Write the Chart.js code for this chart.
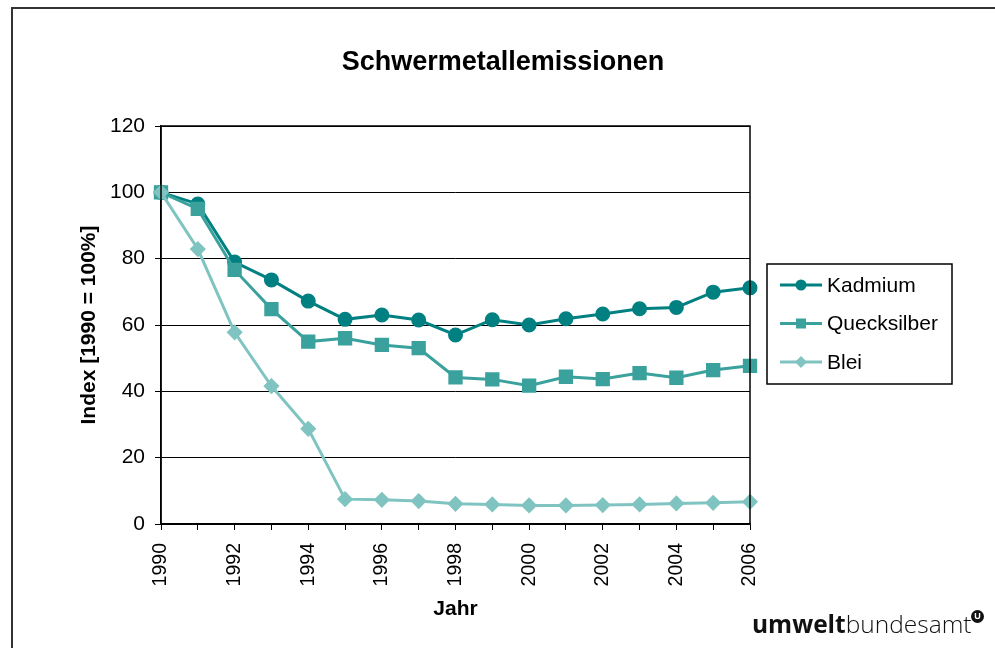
<!DOCTYPE html>
<html>
<head>
  <title>Schwermetallemissionen</title>
  <style>
    body { margin: 0; background: #fff; overflow: hidden; font-family: "Liberation Sans", Arial, sans-serif; }
    #wrap { position: relative; width: 995px; height: 648px; }
    #frame { position: absolute; left: 11px; top: 7px; width: 1100px; height: 800px; border: 2px solid #333; box-sizing: border-box; }
    #chart { position: absolute; left: 0; top: 0; }
    #logo { position: absolute; left: 752px; top: 607px; font-family: "Open Sans", "DejaVu Sans", sans-serif; font-size: 24.5px; color: #111; white-space: nowrap; }
    #logo b { font-weight: 700; }
    #logo span.light { font-weight: 300; }
    #logo .mark { position: absolute; left: 219px; top: 3px; width: 13px; height: 13px; border-radius: 50%; background: #111; color: #fff; font: bold 9px "Liberation Sans", Arial, sans-serif; line-height: 13px; text-align: center; }
  </style>
</head>
<body>
  <div id="wrap">
    <div id="frame"></div>
    <canvas id="chart" width="995" height="648"></canvas>
    <div id="logo"><b>umwelt</b><span class="light">bundesamt</span><span class="mark">U</span></div>
  </div>

  <script src="https://cdn.jsdelivr.net/npm/chart.js"></script>
  <script>
    // Daten
    const jahre = ['1990','1991','1992','1993','1994','1995','1996','1997','1998','1999','2000','2001','2002','2003','2004','2005','2006'];
    const kadmium     = [100, 96.5, 79, 73.6, 67.2, 61.7, 63, 61.5, 57, 61.6, 60, 61.9, 63.3, 64.9, 65.3, 69.9, 71.2];
    const quecksilber = [100, 95, 76.6, 64.8, 55, 56, 54, 53, 44.2, 43.6, 41.7, 44.4, 43.7, 45.5, 44.1, 46.4, 47.7];
    const blei        = [100, 82.9, 57.8, 41.6, 28.7, 7.5, 7.3, 6.9, 6.1, 5.9, 5.6, 5.6, 5.7, 5.9, 6.2, 6.4, 6.7];
    const yTicks = [0, 20, 40, 60, 80, 100, 120];

    const schrift = '"Liberation Sans", Arial, sans-serif';

    // Rahmen um die Zeichenfläche + Titel + Legende
    const extras = {
      id: 'extras',
      afterDraw(chart) {
        const ctx = chart.ctx;
        const a = chart.chartArea;
        ctx.save();
        ctx.strokeStyle = '#000';
        ctx.lineWidth = 1.5;
        ctx.strokeRect(a.left, a.top, a.right - a.left, a.bottom - a.top);

        // Titel
        ctx.fillStyle = '#000';
        ctx.font = 'bold 27px ' + schrift;
        ctx.textAlign = 'center';
        ctx.textBaseline = 'middle';
        ctx.fillText('Schwermetallemissionen', 503, 63);

        // Legende
        const lx = a.right + 17, ly = 264, lw = 185, lh = 120;
        ctx.lineWidth = 1.5;
        ctx.strokeRect(lx, ly, lw, lh);
        ctx.font = '21px ' + schrift;
        ctx.textAlign = 'left';
        chart.data.datasets.forEach(function(ds, i) {
          const y = ly + 21 + i * 38.5;
          ctx.strokeStyle = ds.borderColor;
          ctx.lineWidth = 3;
          ctx.beginPath();
          ctx.moveTo(lx + 13, y);
          ctx.lineTo(lx + 55, y);
          ctx.stroke();
          ctx.fillStyle = ds.borderColor;
          const cx = lx + 34;
          ctx.beginPath();
          if (ds.pointStyle === 'circle') {
            ctx.arc(cx, y, 5.5, 0, Math.PI * 2);
          } else if (ds.pointStyle === 'rect') {
            ctx.rect(cx - 5, y - 5, 10, 10);
          } else {
            ctx.moveTo(cx, y - 6); ctx.lineTo(cx + 6, y); ctx.lineTo(cx, y + 6); ctx.lineTo(cx - 6, y);
            ctx.closePath();
          }
          ctx.fill();
          ctx.fillStyle = '#000';
          ctx.fillText(ds.label, lx + 60, y + 1);
        });
        ctx.restore();
      }
    };

    new Chart(document.getElementById('chart'), {
      type: 'line',
      data: {
        labels: jahre,
        datasets: [
          { label: 'Kadmium', data: kadmium, borderColor: '#008080', backgroundColor: '#008080',
            pointStyle: 'circle', pointRadius: 6, borderWidth: 3, order: 3 },
          { label: 'Quecksilber', data: quecksilber, borderColor: '#3aa19d', backgroundColor: '#3aa19d',
            pointStyle: 'rect', pointRadius: 8, borderWidth: 3, order: 2 },
          { label: 'Blei', data: blei, borderColor: '#80c4c1', backgroundColor: '#80c4c1',
            pointStyle: 'rectRot', pointRadius: 6, borderWidth: 3, order: 1 }
        ]
      },
      options: {
        responsive: false,
        animation: false,
        events: [],
        layout: { padding: { left: 73, right: 245, top: 126, bottom: 22 } },
        plugins: { legend: { display: false }, title: { display: false }, tooltip: { enabled: false } },
        elements: { line: { tension: 0 }, point: { borderWidth: 0 } },
        scales: {
          x: {
            type: 'category',
            offset: false,
            grid: { drawOnChartArea: false, drawTicks: true, tickLength: 6, color: '#000', lineWidth: 1 },
            border: { color: '#000', width: 1.5 },
            ticks: {
              autoSkip: false, maxRotation: 90, minRotation: 90, padding: 13, color: '#000',
              font: { family: schrift, size: 19.5 },
              callback: function(v, i) { return i % 2 === 0 ? jahre[i] : ''; }
            },
            title: { display: true, text: 'Jahr', color: '#000', font: { family: schrift, size: 21, weight: 'bold' }, padding: 4 },
            afterFit: function(s) { s.height = 102; }
          },
          y: {
            min: 0, max: 120,
            afterBuildTicks: function(s) { s.ticks = yTicks.map(function(v) { return { value: v }; }); },
            grid: { color: '#000', lineWidth: 1, tickLength: 6 },
            border: { color: '#000', width: 1.5 },
            ticks: { color: '#000', padding: 10, font: { family: schrift, size: 21 } },
            title: { display: true, text: 'Index [1990 = 100%]', color: '#000', font: { family: schrift, size: 21, weight: 'bold' }, padding: 4 },
            afterFit: function(s) { s.width = 88; }
          }
        }
      },
      plugins: [extras]
    });
  </script>
</body>
</html>
